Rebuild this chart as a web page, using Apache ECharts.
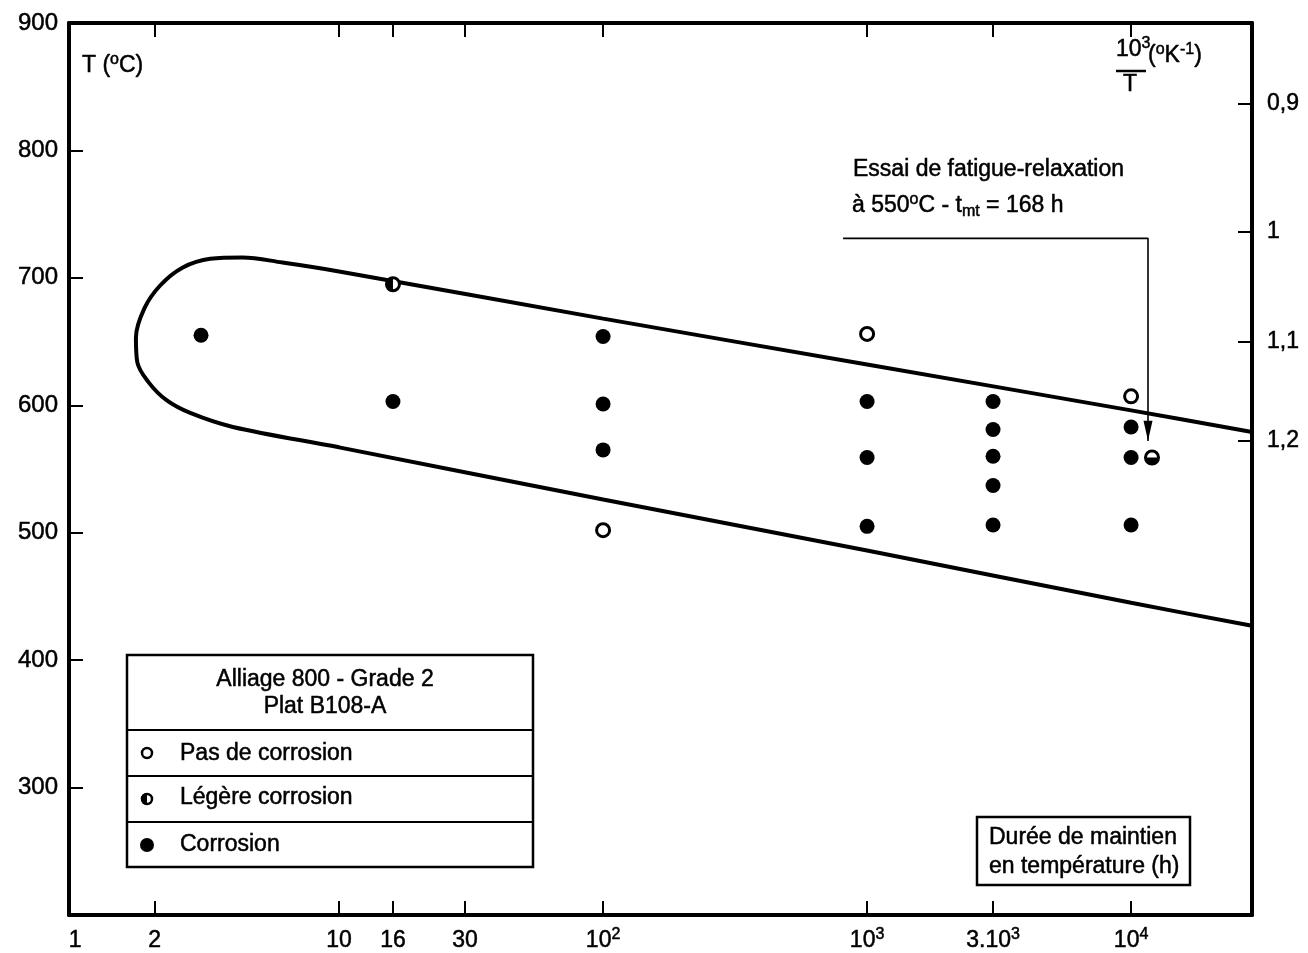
<!DOCTYPE html>
<html><head><meta charset="utf-8">
<script src="https://cdn.jsdelivr.net/npm/echarts@6/dist/echarts.min.js"></script>
<style>html,body{margin:0;padding:0;background:#fff}#c{width:1308px;height:953px}</style>
</head><body><div id="c"></div>
<script>
// ---- data (hours, °C) ----
const xTickHours = [2, 10, 16, 30, 100, 1000, 3000, 10000];
const xLabelHours = [1, 2, 10, 16, 30, 100, 1000, 3000, 10000];
const xLabelTexts = ['1', '2', '10', '16', '30', '10{sup|2}', '10{sup|3}', '3.10{sup|3}', '10{sup|4}'];
const yTickTemps = [300, 400, 500, 600, 700, 800, 900];
const rightTickTemps = [837, 736, 650, 572];
const rightTickLabels = ['0,9', '1', '1,1', '1,2'];

const corrosion = [[3,655],[16,603],[100,654],[100,601],[100,565],[1000,603],[1000,559],[1000,505],
  [3000,603],[3000,581],[3000,560],[3000,537],[3000,506],[10000,583],[10000,559],[10000,506]];
const noCorrosion = [[100,502],[1000,656],[10000,607]];
const slightCorrosion = [[16,695],[12000,559]];
const slightRotation = [0, 90];

const envelope = [[28700,579],[10000,596],[1000,632],[100,668],[10,705],[6.1,712],[4.3,716],[3.25,715],
  [2.55,708],[2.1,694],[1.83,676],[1.70,653],[1.72,634],[1.90,618],[2.22,604],[2.73,594],[3.96,583],
  [10,567],[100,526],[1000,486],[10000,445],[28700,427]];
const arrowLine = [[811,731],[11590,731],[11590,572]];
const arrowHead = [[11590,580]];

// ---- helpers ----
const lg = v => Math.log10(v);
const toXY = arr => arr.map(p => [lg(p[0]), p[1]]);
const FONT = '"Liberation Sans", Arial, Helvetica, sans-serif';
const FS = 23;
const TB = { textBorderColor: '#000', textBorderWidth: 0.5 };
// rich for axis labels (echarts label model)
const richAxis = {
  sup: Object.assign({ fontSize: 16, verticalAlign: 'top', lineHeight: 14, fontFamily: FONT, color: '#000' }, TB),
  n: Object.assign({ fontSize: FS, fontFamily: FONT, color: '#000', lineHeight: 28 }, TB)
};
// rich for graphic texts (zrender style)
const GS = { fill: '#000', stroke: '#000', lineWidth: 0.5 };
const richG = {
  sup: Object.assign({ fontSize: 16, verticalAlign: 'top', lineHeight: 14, fontFamily: FONT }, GS),
  sub: Object.assign({ fontSize: 16, verticalAlign: 'bottom', lineHeight: 14, fontFamily: FONT }, GS),
  n: Object.assign({ fontSize: FS, fontFamily: FONT, lineHeight: 28 }, GS)
};
const halfDisc = 'path://M10,0A10,10,0,0,0,10,20Z M20,10L20,10Z M0,10L0,10Z';
const txt = (x, y, s, extra) => ({
  type: 'text', x: x, y: y, z: 11,
  style: Object.assign({ text: s, font: FS + 'px ' + FONT, fill: '#000', stroke: '#000', lineWidth: 0.5, verticalAlign: 'middle' }, extra || {})
});
const richTxt = (x, y, s) => ({ type: 'text', x: x, y: y, z: 11, style: { text: s, rich: richG, fill: '#000' } });

const chart = echarts.init(document.getElementById('c'), null, { renderer: 'canvas' });
const axisLineStyle = { onZero: false, lineStyle: { color: '#000', width: 4 } };
const tickStyle = { inside: true, length: 14, lineStyle: { color: '#000', width: 2 } };

chart.setOption({
  animation: false,
  backgroundColor: '#fff',
  grid: { left: 69, right: 56, top: 23, bottom: 38, containLabel: false },
  xAxis: [{
    type: 'value', min: -0.023, max: 4.458, position: 'bottom',
    axisLine: axisLineStyle,
    axisTick: Object.assign({ customValues: xTickHours.map(lg) }, tickStyle),
    axisLabel: {
      customValues: xLabelHours.map(lg), margin: 12,
      formatter: v => {
        let i = xLabelHours.findIndex(h => Math.abs(lg(h) - v) < 1e-6);
        return i < 0 ? '' : '{n|' + xLabelTexts[i].replace(/\{sup\|(\w+)\}/g, '}{sup|$1}{n|') + '}';
      },
      rich: richAxis
    },
    splitLine: { show: false }
  }, {
    type: 'value', min: -0.023, max: 4.458, position: 'top',
    axisLine: axisLineStyle,
    axisTick: Object.assign({ customValues: xTickHours.map(lg) }, tickStyle),
    axisLabel: { show: false }, splitLine: { show: false }
  }],
  yAxis: [{
    type: 'value', min: 200, max: 900, position: 'left',
    axisLine: axisLineStyle,
    axisTick: Object.assign({ customValues: yTickTemps }, tickStyle),
    axisLabel: Object.assign({ customValues: yTickTemps, margin: 11, fontSize: 24, fontFamily: FONT, color: '#000' }, TB),
    splitLine: { show: false }
  }, {
    type: 'value', min: 200, max: 900, position: 'right',
    axisLine: axisLineStyle,
    axisTick: Object.assign({ customValues: rightTickTemps }, tickStyle),
    axisLabel: Object.assign({
      customValues: rightTickTemps, margin: 15, fontSize: FS, fontFamily: FONT, color: '#000',
      formatter: v => { const i = rightTickTemps.indexOf(v); return i < 0 ? '' : rightTickLabels[i]; }
    }, TB),
    splitLine: { show: false }
  }],
  series: [
    {
      type: 'line', name: 'envelope', data: toXY(envelope), smooth: 0.35, symbol: 'none',
      lineStyle: { color: '#000', width: 4 }, z: 2, silent: true
    },
    {
      type: 'line', name: 'arrow', data: toXY(arrowLine), symbol: 'none',
      lineStyle: { color: '#000', width: 1.6 }, z: 2, silent: true
    },
    {
      type: 'scatter', name: 'arrowhead', data: toXY(arrowHead), symbol: 'triangle', symbolRotate: 180,
      symbolSize: [9, 20], itemStyle: { color: '#000', opacity: 1 }, z: 3, silent: true
    },
    {
      type: 'scatter', name: 'Corrosion', data: toXY(corrosion), symbol: 'circle', symbolSize: 15,
      itemStyle: { color: '#000', opacity: 1 }, z: 5
    },
    {
      type: 'scatter', name: 'Pas de corrosion', data: toXY(noCorrosion), symbol: 'circle', symbolSize: 13,
      itemStyle: { color: '#fff', borderColor: '#000', borderWidth: 3, opacity: 1 }, z: 5
    },
    {
      type: 'scatter', name: 'Légère corrosion ring', data: toXY(slightCorrosion), symbol: 'circle', symbolSize: 13,
      itemStyle: { color: '#fff', borderColor: '#000', borderWidth: 3, opacity: 1 }, z: 5
    },
    {
      type: 'scatter', name: 'Légère corrosion', symbol: halfDisc, symbolSize: 13,
      data: toXY(slightCorrosion).map((p, i) => ({ value: p, symbolRotate: slightRotation[i] })),
      itemStyle: { color: '#000', opacity: 1 }, z: 6
    }
  ],
  graphic: [
    // axis titles
    richTxt(82, 52, '{n|T (}{sup|o}{n|C)}'),
    richTxt(1116, 36, '{n|10}{sup|3}'),
    { type: 'line', shape: { x1: 1116, y1: 71, x2: 1146, y2: 71 }, style: { stroke: '#000', lineWidth: 2.5 } },
    richTxt(1123, 71, '{n|T}'),
    richTxt(1148, 42, '{n|(}{sup|o}{n|K}{sup|-1}{n|)}'),
    // annotation
    txt(853, 170, 'Essai de fatigue-relaxation'),
    richTxt(852, 192, '{n|à 550}{sup|o}{n|C - t}{sub|mt}{n| = 168 h}'),
    // legend table
    { type: 'rect', shape: { x: 127, y: 655, width: 406, height: 212 }, style: { fill: '#fff', stroke: '#000', lineWidth: 2.5 }, z: 10 },
    { type: 'line', shape: { x1: 127, y1: 730, x2: 533, y2: 730 }, style: { stroke: '#000', lineWidth: 2 }, z: 11 },
    { type: 'line', shape: { x1: 127, y1: 776, x2: 533, y2: 776 }, style: { stroke: '#000', lineWidth: 2 }, z: 11 },
    { type: 'line', shape: { x1: 127, y1: 822, x2: 533, y2: 822 }, style: { stroke: '#000', lineWidth: 2 }, z: 11 },
    txt(325, 680, 'Alliage 800 - Grade 2', { align: 'center' }),
    txt(325, 707, 'Plat B108-A', { align: 'center' }),
    { type: 'circle', shape: { cx: 147, cy: 753, r: 5 }, style: { fill: '#fff', stroke: '#000', lineWidth: 2.5 }, z: 11 },
    { type: 'circle', shape: { cx: 147, cy: 799, r: 5 }, style: { fill: '#fff', stroke: '#000', lineWidth: 2.5 }, z: 11 },
    { type: 'sector', shape: { cx: 147, cy: 799, r: 6, startAngle: Math.PI / 2, endAngle: Math.PI * 1.5 }, style: { fill: '#000' }, z: 12 },
    { type: 'circle', shape: { cx: 147, cy: 845, r: 7 }, style: { fill: '#000' }, z: 11 },
    txt(180, 754, 'Pas de corrosion'),
    txt(180, 798, 'Légère corrosion'),
    txt(180, 845, 'Corrosion'),
    // axis name box
    { type: 'rect', shape: { x: 977, y: 817, width: 213, height: 68 }, style: { fill: '#fff', stroke: '#000', lineWidth: 2.5 }, z: 10 },
    txt(989, 838, 'Durée de maintien'),
    txt(989, 867, 'en température (h)')
  ]
});
</script>
</body></html>
